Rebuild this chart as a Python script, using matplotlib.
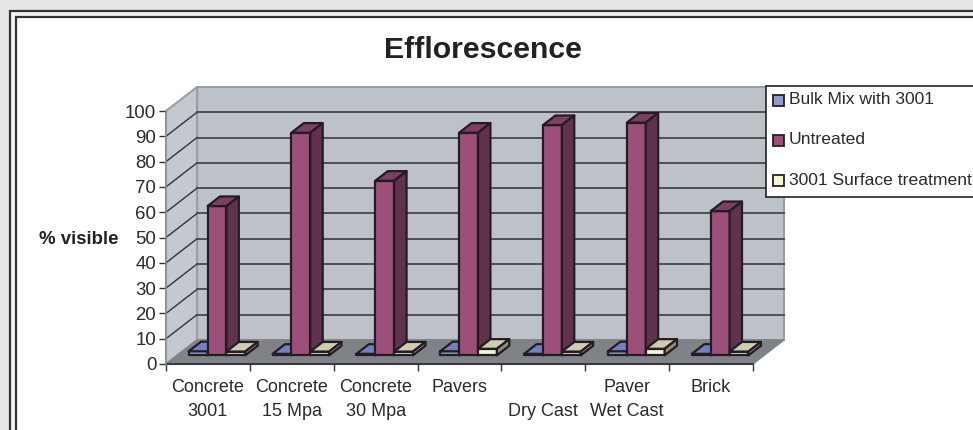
import matplotlib
matplotlib.use('Agg')
import matplotlib.pyplot as plt
from matplotlib.patches import Polygon, Rectangle

plt.rcParams['font.family'] = ['Liberation Sans', 'DejaVu Sans']

categories = ['Concrete\n3001', 'Concrete\n15 Mpa', 'Concrete\n30 Mpa', 'Pavers\n ',
              ' \nDry Cast', 'Paver\nWet Cast', 'Brick\n ']
bulk_mix = [1.6, 0.6, 0.6, 1.6, 0.6, 1.6, 0.6]
untreated = [59, 88, 69, 88, 91, 92, 57]
surface = [1.5, 1.5, 1.5, 2.6, 1.5, 2.6, 1.5]
series_names = ['Bulk Mix with 3001', 'Untreated', '3001 Surface treatment']

# front, top, side colours for each series
colors = [('#8F9BD0', '#7480C4', '#4A5380'),
          ('#9C4F78', '#7E3F62', '#61324E'),
          ('#F6F4CF', '#CFCDB0', '#8E8D78')]

W, H = 973, 430
DX = 0.37   # depth of the 3d box, in category units
DY = 9.5    # depth of the 3d box, in value units
BW = 0.225  # bar width
SHIFT = -0.025  # bars sit a little left of the category centre


def proj(x, v, d):
    # d goes from 0 (front) to 1 (back wall)
    return (x + d * DX, v + d * DY)


def box(ax, x0, x1, val, cols):
    d0, d1 = 0.36, 0.76
    front = [proj(x0, 0, d0), proj(x1, 0, d0), proj(x1, val, d0), proj(x0, val, d0)]
    top = [proj(x0, val, d0), proj(x1, val, d0), proj(x1, val, d1), proj(x0, val, d1)]
    side = [proj(x1, 0, d0), proj(x1, 0, d1), proj(x1, val, d1), proj(x1, val, d0)]
    for pts, c in zip((front, top, side), cols):
        ax.add_patch(Polygon(pts, closed=True, fc=c, ec='#231C22', lw=1.6,
                             joinstyle='round', clip_on=False, zorder=5))


fig = plt.figure(figsize=(W / 100, H / 100), dpi=100, facecolor='#E7E5E7')

# double border round the chart, it runs off the right and bottom edge
fig.add_artist(Rectangle((10 / W, -0.1), 1.1, (430 - 11) / H + 0.1, transform=fig.transFigure,
                         fc='#F4F4F4', ec='#333333', lw=1.6, zorder=-2))
fig.add_artist(Rectangle((16 / W, -0.1), 1.1, (430 - 17) / H + 0.1, transform=fig.transFigure,
                         fc='white', ec='#333333', lw=1.6, zorder=-1))

ax = fig.add_axes([166 / W, (H - 364) / H, 587 / W, 253 / H])
ax.patch.set_visible(False)
ax.set_xlim(0, len(categories))
ax.set_ylim(0, 100)
for s in ax.spines.values():
    s.set_visible(False)

n = len(categories)
# walls and floor
ax.add_patch(Polygon([proj(0, 0, 1), proj(n, 0, 1), proj(n, 100, 1), proj(0, 100, 1)],
                     fc='#BDC1C8', ec='#9A9EA3', lw=1.5, clip_on=False, zorder=1))
ax.add_patch(Polygon([proj(0, 0, 0), proj(0, 0, 1), proj(0, 100, 1), proj(0, 100, 0)],
                     fc='#C4C8CF', ec='#9A9EA3', lw=1.5, clip_on=False, zorder=1))
ax.add_patch(Polygon([proj(0, 0, 0), proj(n, 0, 0), proj(n, 0, 1), proj(0, 0, 1)],
                     fc='#7F8388', ec='#7F8388', lw=1, clip_on=False, zorder=2))

# gridlines on back and side wall, the top edge stays grey
for v in range(10, 100, 10):
    p0, p1, p2 = proj(0, v, 0), proj(0, v, 1), proj(n, v, 1)
    ax.plot([p0[0], p1[0]], [p0[1], p1[1]], color='#333338', lw=1, clip_on=False, zorder=3)
    ax.plot([p1[0], p2[0]], [p1[1], p2[1]], color='#45474C', lw=1.3, clip_on=False, zorder=3)

ax.plot([0, n], [0, 0], color='#3A3A3E', lw=1.5, clip_on=False, zorder=4)
ax.plot([0, 0], [0, 100], color='#8F9398', lw=1.2, clip_on=False, zorder=4)

for i in range(n):
    left = i + 0.5 + SHIFT - 1.5 * BW
    for j, vals in enumerate((bulk_mix, untreated, surface)):
        box(ax, left + j * BW, left + (j + 1) * BW, vals[i], colors[j])

ax.set_yticks(range(0, 101, 10))
ax.set_xticks(range(n + 1))
ax.set_xticklabels([])
ax.set_xticks([i + 0.5 for i in range(n)], minor=True)
ax.set_xticklabels(categories, minor=True, linespacing=1.55)
ax.tick_params(axis='x', which='major', length=5, width=1, color='#333333')
ax.tick_params(axis='x', which='minor', length=0, pad=11, labelsize=13, labelcolor='#2A2A2A')
ax.tick_params(axis='y', length=5, width=1, color='#333333', labelsize=13.4, labelcolor='#2A2A2A', pad=2)

fig.text(78.5 / W, 1 - 240 / H, '% visible', ha='center', va='center', fontsize=13.4,
         fontweight='bold', color='#222222')
fig.text(482.5 / W, 1 - 50 / H, 'Efflorescence', ha='center', va='center', fontsize=21.8,
         fontweight='bold', color='#222222')

# legend box
fig.add_artist(Rectangle((766 / W, 1 - 197 / H), 220 / W, 111 / H, transform=fig.transFigure,
                         fc='white', ec='#222222', lw=1.2, zorder=6))
for name, cols, y in zip(series_names, colors, (100, 140, 180)):
    fig.add_artist(Rectangle((773 / W, 1 - (y + 5.5) / H), 11 / W, 11 / H, transform=fig.transFigure,
                             fc=cols[0], ec='#222222', lw=1.3, zorder=7))
    fig.text(789 / W, 1 - y / H, name, ha='left', va='center', fontsize=12.6,
             color='#2A2A2A', zorder=7)

fig.savefig('out.png', dpi=100, facecolor=fig.get_facecolor())
